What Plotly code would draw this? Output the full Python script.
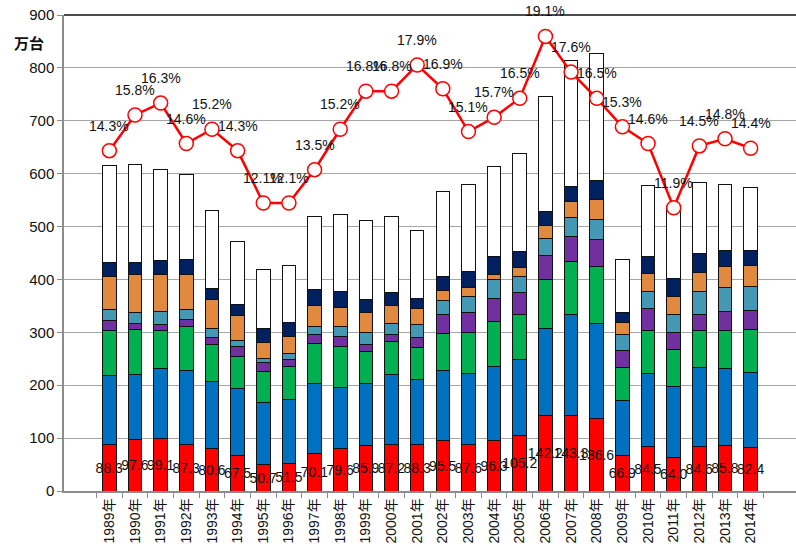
import plotly.graph_objects as go

years = [f"{y}年" for y in range(1989, 2015)]

red_vals = [88.3, 97.6, 99.1, 87.3, 80.6, 67.5, 50.7, 51.5, 70.1, 79.6, 85.9, 87.2, 88.3,
            95.5, 87.6, 96.3, 105.2, 142.2, 143.3, 136.6, 66.9, 84.5, 64.0, 84.6, 85.8, 82.4]
blue_vals = [130, 123, 133, 140, 126, 126, 116, 121, 134, 117, 118, 134, 122,
             133, 134, 140, 143, 166, 190, 180, 105, 137, 133, 149, 146, 142]
green_vals = [85, 85, 71, 83, 70, 61, 60, 63, 75, 76, 60, 61, 61,
              70, 79, 85, 85, 92, 101, 107, 62, 82, 71, 69, 71, 81]
purple_vals = [19, 12, 12, 14, 14, 19, 16, 13, 16, 20, 14, 14, 18,
               35, 37, 43, 43, 45, 47, 52, 31, 41, 32, 32, 37, 35]
teal_vals = [20, 20, 25, 18, 17, 11, 7, 12, 16, 19, 22, 21, 26,
             27, 30, 35, 30, 32, 35, 37, 31, 32, 34, 43, 45, 47]
orange_vals = [63, 71, 70, 68, 55, 47, 32, 32, 40, 35, 37, 34, 29,
               19, 18, 11, 16, 25, 32, 39, 23, 34, 33, 35, 40, 39]
navy_vals = [26, 24, 25, 27, 20, 21, 25, 26, 30, 30, 25, 24, 19,
             26, 30, 33, 31, 26, 27, 36, 19, 33, 35, 37, 29, 28]
white_vals = [185, 184, 172, 162, 147, 120, 112, 108, 138, 147, 150, 144, 130,
              160, 164, 170, 185, 217, 239, 240, 100, 135, 136, 133, 126, 119]

share_pct = [14.3, 15.8, 16.3, 14.6, 15.2, 14.3, 12.1, 12.1, 13.5, 15.2, 16.8, 16.8, 17.9,
             16.9, 15.1, 15.7, 16.5, 19.1, 17.6, 16.5, 15.3, 14.6, 11.9, 14.5, 14.8, 14.4]

y_ticks = list(range(0, 1000, 100))

FONT = "Liberation Sans, Arial, Noto Sans CJK JP"
TXT = "#111111"

series = [
    (red_vals, "#FF0000"),
    (blue_vals, "#0070C0"),
    (green_vals, "#00B050"),
    (purple_vals, "#7030A0"),
    (teal_vals, "#4598B3"),
    (orange_vals, "#E0893F"),
    (navy_vals, "#002060"),
    (white_vals, "#FFFFFF"),
]

fig = go.Figure()
for i, (vals, col) in enumerate(series):
    kw = {}
    if i == 0:
        kw = dict(text=[f"{v:.1f}" for v in vals], textposition="inside",
                  insidetextanchor="middle", constraintext="none", textangle=0,
                  insidetextfont=dict(color=TXT, size=14, family=FONT))
    fig.add_trace(go.Bar(x=years, y=vals, marker=dict(color=col, line=dict(color="#111111", width=1)),
                         showlegend=False, hoverinfo="skip", **kw))

fig.add_trace(go.Scatter(
    x=years, y=share_pct, yaxis="y2", mode="lines+markers",
    line=dict(color="#FF0000", width=2.5),
    marker=dict(size=14, color="white", line=dict(color="#FF0000", width=1.5)),
    cliponaxis=False, showlegend=False, hoverinfo="skip"))

fig.update_layout(
    barmode="stack", bargap=0.47,
    width=796, height=555,
    margin=dict(l=64, r=0, t=15, b=64, autoexpand=False),
    paper_bgcolor="white", plot_bgcolor="white",
    font=dict(family=FONT, size=14, color=TXT),
    xaxis=dict(type="category", showline=True, linecolor="#8c8c8c", linewidth=1.5, automargin=False,
               ticks="outside", tickson="boundaries", ticklen=5, tickcolor="#8c8c8c", showgrid=False,
               tickangle=-90, tickfont=dict(size=14, family=FONT, color=TXT)),
    yaxis=dict(range=[0, 900], tickvals=y_ticks, showline=True, linecolor="#8c8c8c", linewidth=1.5,
               automargin=False, ticks="outside", ticklen=5, tickcolor="#8c8c8c", showgrid=True,
               gridcolor="#A6A6A6", gridwidth=1, zeroline=False,
               tickfont=dict(size=15, family=FONT, color=TXT)),
    yaxis2=dict(range=[0, 20], overlaying="y", visible=False),
    shapes=[dict(type="line", xref="paper", yref="paper", x0=0, x1=1, y0=1, y1=1,
                 line=dict(color="#111111", width=1.5))],
)

for yr, p in zip(years, share_pct):
    fig.add_annotation(x=yr, y=p, xref="x", yref="y2", text=f"{p:.1f}%", showarrow=False,
                       yshift=25, font=dict(size=14, family=FONT, color=TXT))

fig.add_annotation(text="<b>万台</b>", xref="paper", yref="paper", x=-0.071, y=0.943,
                   xanchor="left", yanchor="middle", showarrow=False,
                   font=dict(size=15, family="Noto Sans CJK JP", color=TXT))

fig.write_html("out.html", config={"displayModeBar": False},
               post_script="document.body.style.margin='0';")
